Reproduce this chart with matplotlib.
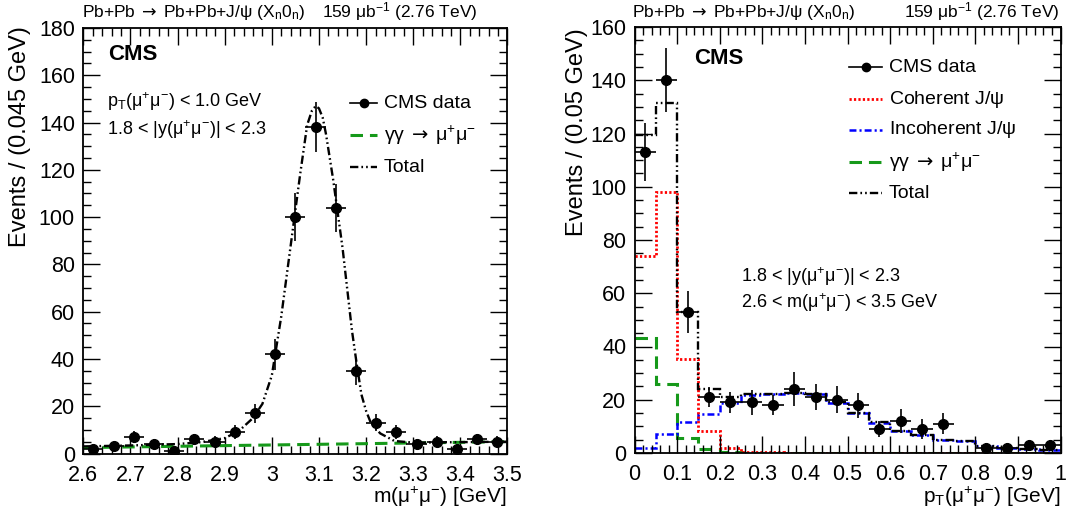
import numpy as np
import matplotlib
matplotlib.use("Agg")
import matplotlib.pyplot as plt
from matplotlib.lines import Line2D

plt.rcParams['font.family'] = ['Liberation Sans', 'DejaVu Sans']
plt.rcParams['mathtext.fontset'] = 'custom'
plt.rcParams['mathtext.rm'] = 'Liberation Sans'
plt.rcParams['mathtext.it'] = 'Liberation Sans:italic'
plt.rcParams['mathtext.bf'] = 'Liberation Sans:bold'
plt.rcParams['mathtext.sf'] = 'DejaVu Sans'
plt.rcParams['mathtext.default'] = 'regular'
plt.rcParams['lines.scale_dashes'] = False

# ---------------- data: left panel (invariant mass) ----------------
mass_lo, mass_hi, mass_nbins = 2.6, 3.5, 21
mass_counts = [2, 3, 7, 4, 1, 6, 5, 9, 17, 42, 100, 138, 104, 35, 13, 9, 4, 5, 2, 6, 5]
mass_errs = [1.5, 1.7, 2.6, 2.0, 1.0, 2.4, 2.2, 3.0, 4.1, 6.5, 10.0, 10.5, 10.2, 5.9, 3.6, 3.0, 2.0, 2.2, 1.5, 2.4, 2.2]
# fitted total curve
total_curve_x = [2.60, 2.70, 2.80, 2.85, 2.90, 2.93, 2.96, 2.98, 3.00, 3.02, 3.04, 3.06,
                 3.075, 3.085, 3.093, 3.10, 3.108, 3.115, 3.13, 3.15, 3.17, 3.18, 3.19,
                 3.20, 3.21, 3.23, 3.26, 3.30, 3.40, 3.50]
total_curve_y = [3.0, 3.4, 4.0, 4.8, 6.5, 9.5, 15, 21, 33, 58, 88, 118,
                 139, 145, 147, 146, 142, 135, 116, 87, 52, 38, 25,
                 18, 13, 8.5, 5.3, 4.6, 4.8, 5.0]
gg_mass_x = [2.6, 3.5]
gg_mass_y = [2.5, 5.0]

# ---------------- data: right panel (pT) ----------------
pt_lo, pt_hi, pt_nbins = 0.0, 1.0, 20
pt_counts = [113, 140, 53, 21, 19, 19, 18, 24, 21, 20, 18, 9, 12, 9, 11, np.nan, 2, 2, 3, 3]
pt_errs = [11, 12, 7.8, 3.8, 4.0, 4.7, 3.8, 6.3, 5.0, 5.0, 4.7, 3.1, 4.4, 3.6, 4.0, np.nan, 1.6, 1.6, 2.0, 2.0]
coherent = [74, 98, 35.2, 8.3, 1.8, 0.5, 0.2, 0.1, 0, 0, 0, 0, 0, 0, 0, 0, 0, 0, 0, 0]
incoherent = [1.8, 7.1, 11.8, 14.5, 18.9, 21.7, 22.0, 22.4, 22.0, 18.9, 15.1, 11.4, 8.3, 6.6, 4.9, 4.5, 2.6, 1.9, 1.5, 1.1]
gg_pt = [43.3, 25.8, 5.5, 1.4, 0.3, 0.1, 0, 0, 0, 0, 0, 0, 0, 0, 0, 0, 0, 0, 0, 0]
total_pt = [119.4, 131.3, 53.0, 24.0, 21.0, 22.3, 22.3, 22.6, 22.1, 19.0, 15.2, 11.5, 8.4, 6.7, 5.0, 4.6, 2.7, 2.0, 1.6, 1.2]

W, H = 1070, 520
fig = plt.figure(figsize=(W / 100, H / 100), dpi=100)


def fx(x):
    return x / W


def fy(y):
    return 1 - y / H


axL = fig.add_axes([fx(83.3), fy(453.5), 424.2 / W, 425.5 / H])
axR = fig.add_axes([fx(634.5), fy(453.0), 426 / W, 426 / H])

GREEN = '#16991a'
DASH_TOTAL = (6, 2.2, 1.2, 2.2, 1.2, 2.2)
DASH_GREEN = (9, 5)
DASH_RED = (1.6, 1.6)
DASH_BLUE = (5, 2.2, 1.5, 2.2)

TICK_FS = 15.5

for ax in (axL, axR):
    ax.tick_params(which='both', direction='in', top=True, right=True, labelsize=TICK_FS)
    ax.tick_params(which='major', length=12, width=1.0)
    ax.tick_params(which='minor', length=6, width=1.0)
    ax.tick_params(axis='x', pad=8)
    ax.tick_params(axis='y', pad=6)
    for s in ax.spines.values():
        s.set_linewidth(1.3)

# ---------------- left panel ----------------
edges_m = np.linspace(mass_lo, mass_hi, mass_nbins + 1)
cent_m = 0.5 * (edges_m[:-1] + edges_m[1:])
hw_m = 0.5 * (edges_m[1] - edges_m[0])

axL.plot(gg_mass_x, gg_mass_y, color=GREEN, lw=2.2, dashes=DASH_GREEN)
axL.plot(total_curve_x, total_curve_y, color='k', lw=1.7, dashes=DASH_TOTAL)
axL.errorbar(cent_m, mass_counts, xerr=hw_m, yerr=mass_errs, fmt='o', color='k',
             ms=7, elinewidth=1.2, capsize=0, zorder=5)
axL.set_xlim(mass_lo, mass_hi)
axL.set_ylim(0, 180)
axL.set_xticks(np.arange(2.6, 3.51, 0.1))
axL.set_xticklabels(['2.6', '2.7', '2.8', '2.9', '3', '3.1', '3.2', '3.3', '3.4', '3.5'])
axL.set_xticks(np.arange(2.6, 3.5001, 0.02), minor=True)
axL.set_yticks(np.arange(0, 181, 20))
axL.set_yticks(np.arange(0, 181, 5), minor=True)

# ---------------- right panel ----------------
edges_p = np.linspace(pt_lo, pt_hi, pt_nbins + 1)
cent_p = 0.5 * (edges_p[:-1] + edges_p[1:])
hw_p = 0.5 * (edges_p[1] - edges_p[0])

axR.stairs(gg_pt, edges_p, baseline=None, color=GREEN, lw=2.2, linestyle=(0, DASH_GREEN))
axR.stairs(incoherent, edges_p, baseline=None, color='#0000ff', lw=1.8, linestyle=(0, DASH_BLUE))
axR.stairs(coherent, edges_p, baseline=None, color='#ff0000', lw=2.0, linestyle=(0, DASH_RED))
axR.stairs(total_pt, edges_p, baseline=None, color='k', lw=1.7, linestyle=(0, DASH_TOTAL))
axR.errorbar(cent_p, pt_counts, xerr=hw_p, yerr=pt_errs, fmt='o', color='k',
             ms=7, elinewidth=1.2, capsize=0, zorder=5)
axR.set_xlim(pt_lo, pt_hi)
axR.set_ylim(0, 160)
axR.set_xticks(np.arange(0, 1.01, 0.1))
axR.set_xticklabels(['0', '0.1', '0.2', '0.3', '0.4', '0.5', '0.6', '0.7', '0.8', '0.9', '1'])
axR.set_xticks(np.arange(0, 1.0001, 0.02), minor=True)
axR.set_yticks(np.arange(0, 161, 20))
axR.set_yticks(np.arange(0, 161, 5), minor=True)

# ---------------- texts ----------------
HDR_FS = 12.5
XLAB_FS = 15
YLAB_FS = 17
LEG_FS = 14
ANN_FS = 13
ARROW = r'$\;\mathsf{\rightarrow}\;$'

for x0, x1 in ((82, 477), (632, 1059)):
    fig.text(fx(x0), fy(12), r'Pb+Pb' + ARROW + r'Pb+Pb+J/$\psi$ (X$_{n}$0$_{n}$)', fontsize=HDR_FS,
             ha='left', va='center')
    fig.text(fx(x1), fy(12), r'159 $\mu$b$^{-1}$ (2.76 TeV)', fontsize=HDR_FS,
             ha='right', va='center')

fig.text(fx(20), fy(26), 'Events / (0.045 GeV)', rotation=90, fontsize=YLAB_FS, ha='center', va='top')
fig.text(fx(577), fy(28), 'Events / (0.05 GeV)', rotation=90, fontsize=YLAB_FS, ha='center', va='top')
fig.text(fx(507), fy(497), r'm($\mu^{+}\mu^{-}$) [GeV]', fontsize=XLAB_FS, ha='right', va='center')
fig.text(fx(1060), fy(497), r'p$_{T}$($\mu^{+}\mu^{-}$) [GeV]', fontsize=XLAB_FS, ha='right', va='center')

fig.text(fx(108), fy(54), 'CMS', fontsize=16, fontweight='bold', ha='left', va='center')
fig.text(fx(694), fy(58), 'CMS', fontsize=16, fontweight='bold', ha='left', va='center')

fig.text(fx(107), fy(102), r'p$_{T}$($\mu^{+}\mu^{-}$) < 1.0 GeV', fontsize=ANN_FS, ha='left', va='center')
fig.text(fx(107), fy(130), r'1.8 < |y($\mu^{+}\mu^{-}$)| < 2.3', fontsize=ANN_FS, ha='left', va='center')
fig.text(fx(741), fy(277), r'1.8 < |y($\mu^{+}\mu^{-}$)| < 2.3', fontsize=ANN_FS, ha='left', va='center')
fig.text(fx(741), fy(303), r'2.6 < m($\mu^{+}\mu^{-}$) < 3.5 GeV', fontsize=ANN_FS, ha='left', va='center')


def legend_entry(x0, x1, y, label, kind):
    xs = [fx(x0), fx(x1)]
    ys = [fy(y), fy(y)]
    if kind == 'data':
        fig.add_artist(Line2D(xs, ys, color='k', lw=1.2))
        fig.add_artist(Line2D([fx(0.5 * (x0 + x1))], [fy(y)], color='k', marker='o', ms=6, ls='none'))
    elif kind == 'red':
        fig.add_artist(Line2D(xs, ys, color='#ff0000', lw=2.0, dashes=DASH_RED))
    elif kind == 'blue':
        fig.add_artist(Line2D(xs, ys, color='#0000ff', lw=1.8, dashes=DASH_BLUE))
    elif kind == 'green':
        fig.add_artist(Line2D(xs, ys, color=GREEN, lw=2.2, dashes=DASH_GREEN))
    elif kind == 'total':
        fig.add_artist(Line2D(xs, ys, color='k', lw=1.7, dashes=DASH_TOTAL))
    fig.text(fx(x1 + 7), fy(y), label, fontsize=LEG_FS, ha='left', va='center')


gg_label = r'$\gamma\gamma$' + ARROW + r'$\mu^{+}\mu^{-}$'
legend_entry(350, 377, 103, 'CMS data', 'data')
legend_entry(350, 377, 135, gg_label, 'green')
legend_entry(350, 377, 167, 'Total', 'total')

legend_entry(849, 882, 67, 'CMS data', 'data')
legend_entry(849, 882, 99, r'Coherent J/$\psi$', 'red')
legend_entry(849, 882, 130, r'Incoherent J/$\psi$', 'blue')
legend_entry(849, 882, 162, gg_label, 'green')
legend_entry(849, 882, 193, 'Total', 'total')

fig.savefig('out.png', dpi=100)
